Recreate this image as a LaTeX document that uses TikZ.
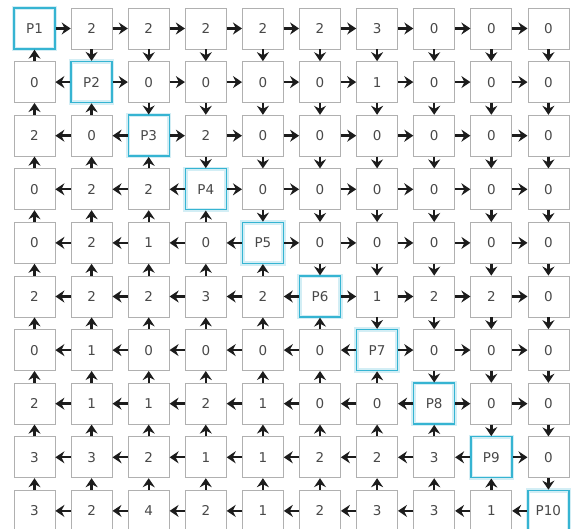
\documentclass[tikz,border=0pt]{standalone}
\usepackage{fontspec}
\setmainfont{DejaVu Sans}
\usetikzlibrary{arrows.meta}
\definecolor{cellgray}{HTML}{B0B0B0}
\definecolor{celltext}{HTML}{484848}
\definecolor{diagcyan}{HTML}{36B4D2}
\definecolor{flowdark}{HTML}{1C1C1C}
\tikzset{
  cell/.style={draw=cellgray,line width=0.8pt,minimum width=41pt,minimum height=41pt,
    inner sep=0pt,text=celltext,font=\fontsize{13.5}{15}\selectfont},
  diag/.style={cell,draw=diagcyan,line width=1.4pt,
    preaction={draw=diagcyan!22,line width=4.5pt}},
  flow/.style={-{Stealth[length=9pt,width=12pt,inset=3pt]},flowdark,line width=2.4pt}
}
\begin{document}
\begin{tikzpicture}[x=1pt,y=1pt]
  \useasboundingbox (0,0) rectangle (571,-529);
  \foreach \row [count=\i] in {
      {P1,2,2,2,2,2,3,0,0,0},
      {0,P2,0,0,0,0,1,0,0,0},
      {2,0,P3,2,0,0,0,0,0,0},
      {0,2,2,P4,0,0,0,0,0,0},
      {0,2,1,0,P5,0,0,0,0,0},
      {2,2,2,3,2,P6,1,2,2,0},
      {0,1,0,0,0,0,P7,0,0,0},
      {2,1,1,2,1,0,0,P8,0,0},
      {3,3,2,1,1,2,2,3,P9,0},
      {3,2,4,2,1,2,3,3,1,P10}} {
    \foreach \val [count=\j] in \row {
      \ifnum\i=\j\def\kind{diag}\else\def\kind{cell}\fi
      \node[\kind] (c-\i-\j) at ({34.5+57.1*(\j-1)},{-28.5-53.6*(\i-1)}) {\val};
    }
  }
  \foreach \i in {1,...,10} {
    \foreach \j in {1,...,9} {
      \pgfmathtruncatemacro\k{\j+1}
      \ifnum\j<\i
        \draw[flow] (c-\i-\k) -- (c-\i-\j);
      \else
        \draw[flow] (c-\i-\j) -- (c-\i-\k);
      \fi
    }
  }
  \foreach \i in {1,...,9} {
    \foreach \j in {1,...,10} {
      \pgfmathtruncatemacro\k{\i+1}
      \ifnum\j>\i
        \draw[flow] (c-\i-\j) -- (c-\k-\j);
      \else
        \draw[flow] (c-\k-\j) -- (c-\i-\j);
      \fi
    }
  }
\end{tikzpicture}
\end{document}
